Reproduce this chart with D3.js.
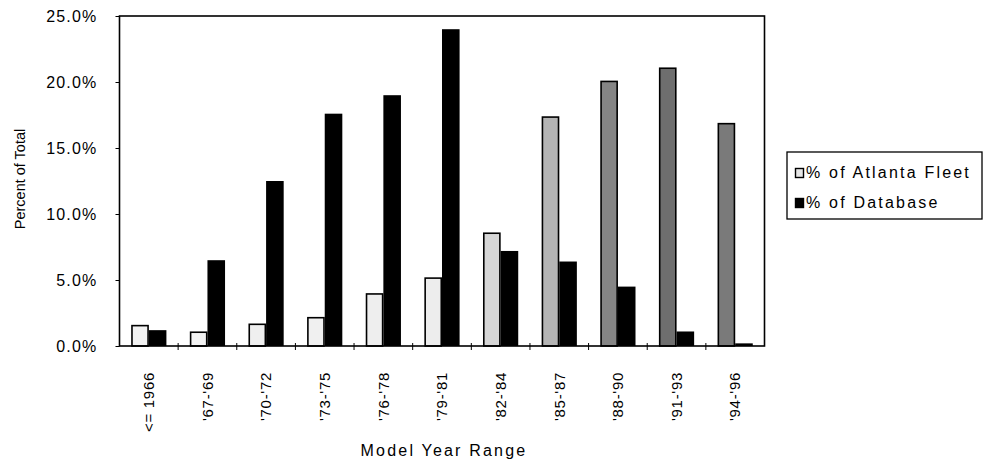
<!DOCTYPE html>
<html>
<head>
<meta charset="utf-8">
<script src="https://cdn.jsdelivr.net/npm/d3@7/dist/d3.min.js"></script>
<style>
  html, body { margin: 0; padding: 0; background: #fff; }
  svg { display: block; font-family: "Liberation Sans", Arial, sans-serif; }
</style>
</head>
<body>
<svg id="chart" width="983" height="460"></svg>
<script>
const categories = ["<= 1966", "'67-'69", "'70-'72", "'73-'75", "'76-'78", "'79-'81", "'82-'84", "'85-'87", "'88-'90", "'91-'93", "'94-'96"];
const atlantaFleet = [1.6, 1.1, 1.7, 2.2, 4.0, 5.2, 8.6, 17.4, 20.1, 21.1, 16.9];
const database = [1.2, 6.5, 12.5, 17.6, 19.0, 24.0, 7.2, 6.4, 4.5, 1.1, 0.2];
const yTicks = [0, 5, 10, 15, 20, 25];
const seriesNames = ["% of Atlanta Fleet", "% of Database"];

// styles (not data)
const atlantaShades = ["#f2f2f2", "#f2f2f2", "#efefef", "#f0f0f0", "#eeeeee", "#ededed", "#d6d6d6", "#b4b4b4", "#858585", "#6e6e6e", "#7a7a7a"];

const svg = d3.select("#chart");
const pLeft = 119.5, pRight = 764.5, pTop = 16, pBottom = 346;

const x = d3.scaleBand().domain(categories).range([pLeft, pRight]).paddingInner(0.4).paddingOuter(0.2);
const xs = d3.scaleBand().domain([0, 1]).range([0, x.bandwidth()]);
const y = d3.scaleLinear().domain([0, 25]).range([pBottom, pTop]);

const rows = categories.map((c, i) => ({ c, i, vals: [atlantaFleet[i], database[i]] }));

// bars
const g = svg.append("g");
rows.forEach(r => {
  g.append("rect")
    .attr("x", x(r.c) + xs(1))
    .attr("y", y(r.vals[1]))
    .attr("width", xs.bandwidth())
    .attr("height", y(0) - y(r.vals[1]))
    .attr("fill", "#000");
  g.append("rect")
    .attr("x", x(r.c) + xs(0) + 0.75)
    .attr("y", y(r.vals[0]) + 0.75)
    .attr("width", xs.bandwidth() - 1.5)
    .attr("height", Math.max(0, y(0) - y(r.vals[0]) - 0.75))
    .attr("fill", atlantaShades[r.i])
    .attr("stroke", "#000")
    .attr("stroke-width", 1.6);
});

// frame
svg.append("rect")
  .attr("x", pLeft).attr("y", pTop)
  .attr("width", pRight - pLeft).attr("height", pBottom - pTop)
  .attr("fill", "none").attr("stroke", "#000").attr("stroke-width", 1.6);

// y axis
const yAxis = svg.append("g")
  .attr("transform", `translate(${pLeft},0)`)
  .call(d3.axisLeft(y).tickValues(yTicks).tickFormat(d => d.toFixed(1) + "%").tickSize(4).tickPadding(18));
yAxis.select(".domain").remove();
yAxis.selectAll("line").attr("stroke", "#000").attr("stroke-width", 1);
yAxis.selectAll("text")
  .attr("font-size", 16)
  .attr("letter-spacing", 1.2)
  .attr("fill", "#000")
  .attr("font-family", "\"Liberation Sans\", Arial, sans-serif");

// x axis labels
const xAxis = svg.append("g")
  .attr("transform", `translate(0,${pBottom})`)
  .call(d3.axisBottom(x).tickSize(0).tickPadding(0));
xAxis.select(".domain").remove();
xAxis.selectAll("text")
  .attr("transform", "rotate(-90)")
  .attr("x", -26)
  .attr("y", 0)
  .attr("dy", "0.35em")
  .attr("text-anchor", "end")
  .attr("font-size", 15)
  .attr("letter-spacing", 0.7)
  .attr("fill", "#000")
  .attr("font-family", "\"Liberation Sans\", Arial, sans-serif");

// boundary ticks on x axis
const step = x.step();
const bounds = d3.range(1, categories.length).map(i => pLeft + i * step);
svg.append("g").selectAll("line").data(bounds).join("line")
  .attr("x1", d => d).attr("x2", d => d)
  .attr("y1", pBottom - 3).attr("y2", pBottom + 4)
  .attr("stroke", "#000").attr("stroke-width", 1);

// axis titles
svg.append("text")
  .attr("x", (pLeft + pRight) / 2 + 2)
  .attr("y", 456)
  .attr("text-anchor", "middle")
  .attr("font-size", 16)
  .attr("letter-spacing", 2.2)
  .text("Model Year Range");

svg.append("text")
  .attr("transform", `translate(25,${(pTop + pBottom) / 2 - 2}) rotate(-90)`)
  .attr("text-anchor", "middle")
  .attr("font-size", 14.5)
  .text("Percent of Total");

// legend
const lg = svg.append("g");
lg.append("rect")
  .attr("x", 787).attr("y", 152)
  .attr("width", 195).attr("height", 67)
  .attr("fill", "#fff").attr("stroke", "#000").attr("stroke-width", 1.3);
const legendFills = ["#e6e6e6", "#000"];
seriesNames.forEach((name, i) => {
  const yy = 168 + i * 30;
  lg.append("rect")
    .attr("x", 795.5).attr("y", yy + 0.5)
    .attr("width", 8).attr("height", 9)
    .attr("fill", legendFills[i])
    .attr("stroke", "#000").attr("stroke-width", 1.4);
  lg.append("text")
    .attr("x", 806)
    .attr("y", yy + 9.5)
    .attr("font-size", 16)
    .attr("letter-spacing", 2.2)
    .text(name);
});
</script>
</body>
</html>
